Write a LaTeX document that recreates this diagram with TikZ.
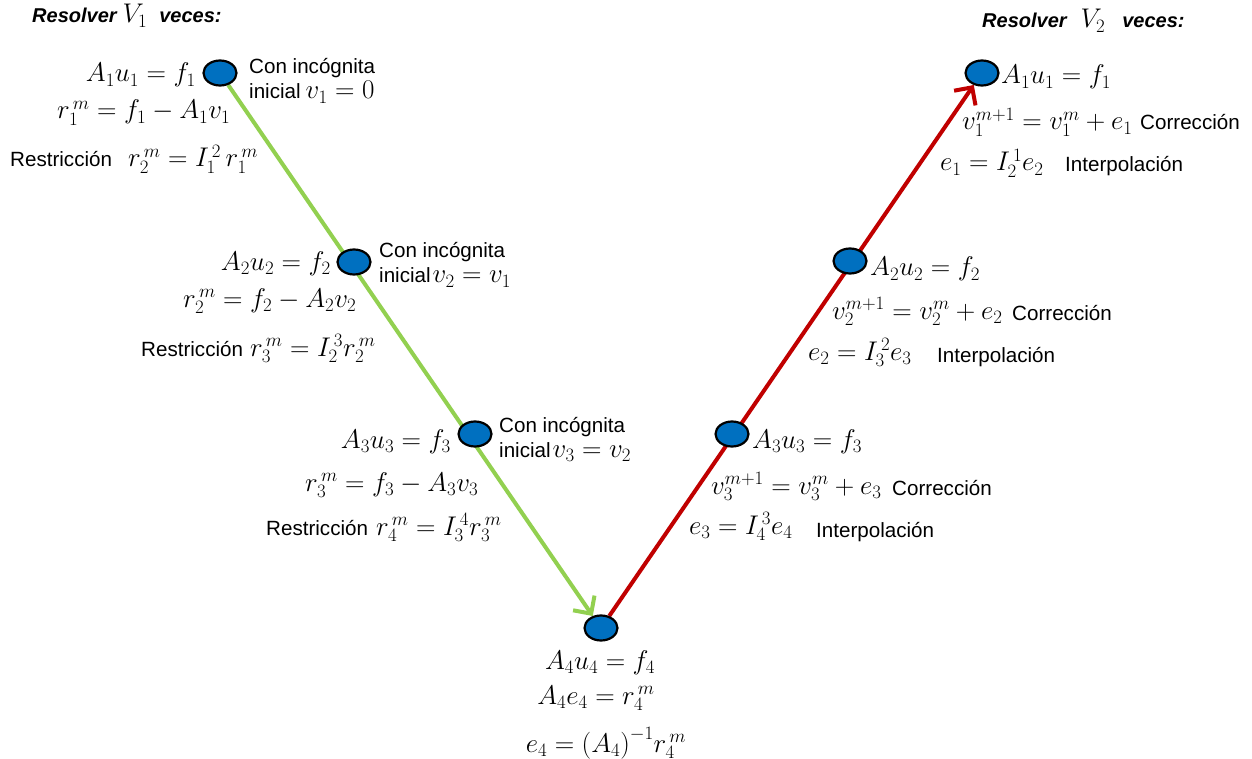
\RequirePackage{fix-cm}
\documentclass[tikz,border=0pt]{standalone}
\usepackage{fontspec}
\newfontfamily\arial{Liberation Sans}
\usetikzlibrary{arrows.meta,shapes.geometric,backgrounds}
\definecolor{nodeblue}{RGB}{0,112,192}
\definecolor{lgreen}{RGB}{146,208,80}
\definecolor{dred}{RGB}{192,0,0}
\newcommand\MM[1]{{\fontsize{27}{31}\selectfont$#1$}}
\begin{document}
\begin{tikzpicture}[x=1pt,y=-1pt,
  dot/.style={ellipse,draw=black,line width=2.2pt,fill=nodeblue,minimum width=33pt,minimum height=25pt,inner sep=0pt},
  eq/.style={inner sep=0pt,anchor=base west,font=\fontsize{27}{31}\selectfont},
  eqc/.style={inner sep=0pt,anchor=base,font=\fontsize{27}{31}\selectfont},
  lbl/.style={inner sep=0pt,anchor=base west,font=\arial\fontsize{20.6}{24}\selectfont},
  ttl/.style={inner sep=0pt,anchor=base west,font=\arial\bfseries\itshape\fontsize{20}{24}\selectfont},
  greenarrow/.style={lgreen,line width=4pt,-{Straight Barb[length=13pt,width=26pt]}},
  redarrow/.style={dred,line width=4pt,-{Straight Barb[length=13pt,width=26pt]}}]
\useasboundingbox (0,0) rectangle (1252,759);
\clip (0,0) rectangle (1252,759);
% nodes
\node[dot] (n1) at (220,73) {};
\node[dot] (n2) at (354,262) {};
\node[dot] (n3) at (475,434) {};
\node[dot] (n4) at (601,628) {};
\node[dot] (m3) at (732,434) {};
\node[dot] (m2) at (850,261) {};
\node[dot] (m1) at (982,73) {};
% connectors
\begin{pgfonlayer}{background}
\draw[greenarrow] (n1) -- (n4);
\draw[redarrow] (n4) -- (m1);
\end{pgfonlayer}
% titles
\node[ttl] (t1) at (32,23) {Resolver\hspace{6pt}\MM{V_1}\hspace{12pt}veces:};
\node[ttl] (t2) at (982,28) {Resolver\hspace{14pt}\MM{V_2}\hspace{17pt}veces:};
% left block 1
\node[eq,anchor=base east] (a1) at (196,82) {$A_1u_1 = f_1$};
\node[eq] (b1) at (57,119) {$r_1^{\,m} = f_1 - A_1v_1$};
\node[lbl] (c1) at (10,167) {Restricción\hspace{16pt}\MM{r_2^{\,m} = I_1^{\,2}\, r_1^{\,m}}};
\node[lbl] (d1) at (249,74) {Con incógnita};
\node[lbl] (e1) at (249,99) {inicial\hspace{5pt}\MM{v_1 = 0}};
% left block 2
\node[eq,anchor=base east] (a2) at (331,270) {$A_2u_2 = f_2$};
\node[eq] (b2) at (183,307) {$r_2^{\,m} = f_2 - A_2v_2$};
\node[lbl] (c2) at (141,356) {Restricción\hspace{7pt}\MM{r_3^{\,m} = I_2^{\,3} r_2^{\,m}}};
\node[lbl] (d2) at (379,258) {Con incógnita};
\node[lbl] (e2) at (379,283) {inicial\hspace{2pt}\MM{v_2 = v_1}};
% left block 3
\node[eq,anchor=base east] (a3) at (451,448) {$A_3u_3 = f_3$};
\node[eq] (b3) at (305,491) {$r_3^{\,m} = f_3 - A_3v_3$};
\node[lbl] (c3) at (266,535) {Restricción\hspace{8pt}\MM{r_4^{\,m} = I_3^{\,4} r_3^{\,m}}};
\node[lbl] (d3) at (499,432) {Con incógnita};
\node[lbl] (e3) at (499,457) {inicial\hspace{2pt}\MM{v_3 = v_2}};
% bottom block
\node[eqc] (a4) at (600,669) {$A_4u_4 = f_4$};
\node[eqc] (b4) at (596,704) {$A_4e_4 = r_4^{\,m}$};
\node[eqc] (c4) at (606,752) {$e_4 = \bigl(A_4\bigr)^{-1} r_4^{\,m}$};
% right block 1
\node[eq] (p1) at (1001,84) {$A_1u_1 = f_1$};
\node[eq] (q1) at (962,130) {$v_1^{m+1} = v_1^{m} + e_1$};
\node[lbl] (q1t) at (1140,130) {Corrección};
\node[eq] (s1) at (940,171) {$e_1 = I_2^{\,1} e_2$};
\node[lbl] (s1t) at (1065,172) {Interpolación};
% right block 2
\node[eq] (p2) at (870,276) {$A_2u_2 = f_2$};
\node[eq] (q2) at (832,319) {$v_2^{m+1} = v_2^{m} + e_2$};
\node[lbl] (q2t) at (1012,320) {Corrección};
\node[eq] (s2) at (808,360) {$e_2 = I_3^{\,2} e_3$};
\node[lbl] (s2t) at (937,362) {Interpolación};
% right block 3
\node[eq] (p3) at (752,448) {$A_3u_3 = f_3$};
\node[eq] (q3) at (711,494) {$v_3^{m+1} = v_3^{m} + e_3$};
\node[lbl] (q3t) at (892,495) {Corrección};
\node[eq] (s3) at (689,534) {$e_3 = I_4^{\,3} e_4$};
\node[lbl] (s3t) at (816,537) {Interpolación};
\end{tikzpicture}
\end{document}
